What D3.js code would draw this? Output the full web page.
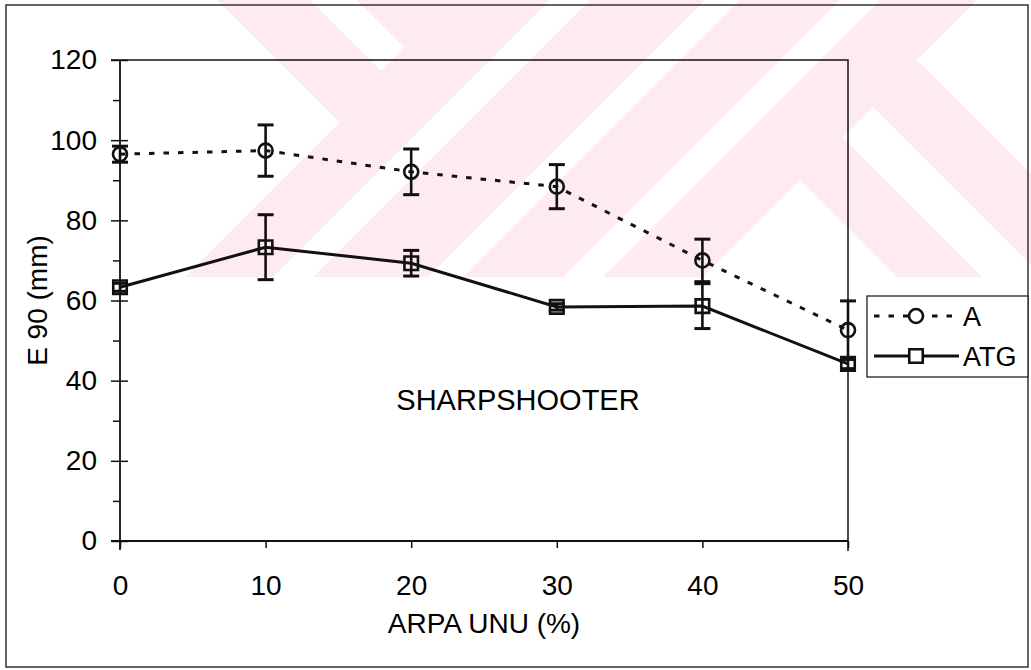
<!DOCTYPE html>
<html>
<head>
<meta charset="utf-8">
<script src="https://cdn.jsdelivr.net/npm/d3@7"></script>
<style>
  html, body { margin: 0; padding: 0; background: #fff; }
  svg { display: block; }
  text { font-family: "Liberation Sans", Arial, sans-serif; fill: #000; }
</style>
</head>
<body>
<svg id="chart" width="1031" height="670"></svg>
<script>
// ARPA UNU (%) levels on the x axis
const arpaUnu = [0, 10, 20, 30, 40, 50];
// E 90 (mm) means and error half-widths for each flour
const seriesA = [96.5, 97.4, 92.1, 88.4, 70.0, 52.6];
const errorA = [2.0, 6.4, 5.7, 5.5, 5.3, 7.3];
const seriesATG = [63.3, 73.3, 69.3, 58.4, 58.6, 44.2];
const errorATG = [1.0, 8.1, 3.2, 0.8, 5.6, 1.2];
const seriesNames = ["A", "ATG"];
// axis ticks
const xTicks = [0, 10, 20, 30, 40, 50];
const yMajorTicks = [0, 20, 40, 60, 80, 100, 120];
const yMinorTicks = [10, 30, 50, 70, 90, 110];
const yTitle = "E 90 (mm)";
const xTitle = "ARPA UNU (%)";
const panelLabel = "SHARPSHOOTER";

const svg = d3.select("#chart");
const W = 1031, H = 670;
const ink = "#111";

// faint background emblem: pale diagonal bands in the upper strip
const wm = svg.append("g").attr("class", "emblem");
wm.append("clipPath").attr("id", "emblemClip")
  .append("rect").attr("x", 0).attr("y", 0).attr("width", W).attr("height", 277);
const wmg = wm.append("g").attr("clip-path", "url(#emblemClip)");
const pink = "#fdebef";
const poly = pts => "M" + pts.map(p => p.join(",")).join("L") + "Z";
wmg.append("path").attr("fill", pink)
  .attr("d", poly([[217, 0], [1100, 0], [1100, 277], [185, 277], [339.5, 122.5]]));
const whiteShapes = [
  [[310, 0], [357, 0], [404.5, 47.5], [381, 71]],
  [[550, 0], [590, 0], [313, 277], [273, 277]],
  [[705, 0], [740, 0], [463, 277], [428, 277]],
  [[840, 0], [880, 0], [603, 277], [563, 277]],
  [[800, 180], [897, 277], [703, 277]],
  [[873, 107], [1043, 277], [982, 277], [842.5, 137.5]],
  [[917, 60], [977, 0], [1100, 0], [1100, 243]]
];
wmg.selectAll("path.gap").data(whiteShapes).join("path")
  .attr("class", "gap").attr("fill", "#fff").attr("d", d => poly(d));

// outer frame
svg.append("rect").attr("x", 6).attr("y", 5).attr("width", 1022).attr("height", 662)
  .attr("fill", "none").attr("stroke", "#333").attr("stroke-width", 1.5);

const x = d3.scaleLinear().domain([0, 50]).range([120, 848]);
const y = d3.scaleLinear().domain([0, 120]).range([541, 60]);

// plot frame: top and right edges
svg.append("path")
  .attr("d", `M${x(0) - 9},${y(120)}H${x(50)}V${y(0) + 10}`)
  .attr("fill", "none").attr("stroke", ink).attr("stroke-width", 1.5);

// y axis: labelled major ticks outside, inner half of major ticks, minor ticks
const yAxis = svg.append("g").attr("transform", `translate(${x(0)},0)`)
  .call(d3.axisLeft(y).tickValues(yMajorTicks).tickSizeInner(9).tickSizeOuter(0).tickPadding(14));
yAxis.select(".domain").remove();
yAxis.selectAll("line").attr("stroke", ink).attr("stroke-width", 1.5);
yAxis.selectAll("text").attr("font-size", 28).attr("font-family", "Liberation Sans, Arial, sans-serif");

const yAxisIn = svg.append("g").attr("transform", `translate(${x(0)},0)`)
  .call(d3.axisRight(y).tickValues(yMajorTicks).tickSizeInner(8).tickSizeOuter(0).tickFormat(""));
yAxisIn.select(".domain").remove();
yAxisIn.selectAll("line").attr("stroke", ink).attr("stroke-width", 1.5);

const yAxisMinor = svg.append("g").attr("transform", `translate(${x(0)},0)`)
  .call(d3.axisLeft(y).tickValues(yMinorTicks).tickSizeInner(7).tickSizeOuter(0).tickFormat(""));
yAxisMinor.select(".domain").remove();
yAxisMinor.selectAll("line").attr("stroke", ink).attr("stroke-width", 1.5);

// x axis
const xAxis = svg.append("g").attr("transform", `translate(0,${y(0)})`)
  .call(d3.axisBottom(x).tickValues(xTicks).tickSizeInner(7).tickSizeOuter(0).tickPadding(27));
xAxis.select(".domain").remove();
xAxis.selectAll("line").attr("stroke", ink).attr("stroke-width", 1.5);
xAxis.selectAll("text").attr("font-size", 28).attr("font-family", "Liberation Sans, Arial, sans-serif");

// axis lines
svg.append("line").attr("x1", x(0)).attr("x2", x(0)).attr("y1", y(120)).attr("y2", y(0) + 9)
  .attr("stroke", ink).attr("stroke-width", 1.8);
svg.append("line").attr("x1", x(0) - 9).attr("x2", x(50)).attr("y1", y(0)).attr("y2", y(0))
  .attr("stroke", ink).attr("stroke-width", 1.8);

// titles
svg.append("text").attr("x", (x(0) + x(50)) / 2).attr("y", 633)
  .attr("text-anchor", "middle").attr("font-size", 28).text(xTitle);
svg.append("text").attr("transform", `translate(47,${(y(0) + y(120)) / 2}) rotate(-90)`)
  .attr("text-anchor", "middle").attr("font-size", 28).text(yTitle);
svg.append("text").attr("x", 518).attr("y", 410)
  .attr("text-anchor", "middle").attr("font-size", 29).text(panelLabel);

const series = [
  { name: seriesNames[0], values: seriesA, errors: errorA, dash: "5.5,9", symbol: "circle" },
  { name: seriesNames[1], values: seriesATG, errors: errorATG, dash: null, symbol: "square" }
];

const line = d3.line().x(d => x(d.x)).y(d => y(d.v));
const markerPath = (sym) => sym === "circle"
  ? d3.symbol(d3.symbolCircle, Math.PI * 7 * 7)()
  : d3.symbol(d3.symbolSquare, 13.5 * 13.5)();

series.forEach(s => {
  const pts = arpaUnu.map((xv, i) => ({ x: xv, v: s.values[i], e: s.errors[i] }));
  const g = svg.append("g");
  g.append("path").datum(pts).attr("d", line)
    .attr("fill", "none").attr("stroke", ink).attr("stroke-width", s.dash ? 3 : 3)
    .attr("stroke-dasharray", s.dash);
  // error bars
  const eb = g.selectAll("g.err").data(pts).join("g").attr("class", "err");
  eb.append("line")
    .attr("x1", d => x(d.x)).attr("x2", d => x(d.x))
    .attr("y1", d => y(d.v + d.e)).attr("y2", d => y(d.v - d.e))
    .attr("stroke", ink).attr("stroke-width", 2.6);
  [1, -1].forEach(sg => {
    eb.append("line")
      .attr("x1", d => x(d.x) - 8).attr("x2", d => x(d.x) + 8)
      .attr("y1", d => y(d.v + sg * d.e)).attr("y2", d => y(d.v + sg * d.e))
      .attr("stroke", ink).attr("stroke-width", 3);
  });
  // markers
  g.selectAll("path.mk").data(pts).join("path").attr("class", "mk")
    .attr("d", markerPath(s.symbol))
    .attr("transform", d => `translate(${x(d.x)},${y(d.v)})`)
    .attr("fill", "none").attr("stroke", ink).attr("stroke-width", 2.6);
});

// legend
const lg = svg.append("g");
lg.append("rect").attr("x", 867).attr("y", 296).attr("width", 161).attr("height", 81)
  .attr("fill", "#fff").attr("stroke", "#222").attr("stroke-width", 1.3);
const legendRows = lg.selectAll("g.row").data(series).join("g").attr("class", "row")
  .attr("transform", (d, i) => `translate(0,${316 + i * 40})`);
legendRows.append("line").attr("x1", 874).attr("x2", 959).attr("y1", 0).attr("y2", 0)
  .attr("stroke", ink).attr("stroke-width", 3)
  .attr("stroke-dasharray", d => d.dash);
legendRows.append("path").attr("d", d => markerPath(d.symbol))
  .attr("transform", "translate(916,0)")
  .attr("fill", "#fff").attr("stroke", ink).attr("stroke-width", 2.6);
legendRows.append("text").attr("x", 963).attr("y", 10).attr("font-size", 27).text(d => d.name);
</script>
</body>
</html>
